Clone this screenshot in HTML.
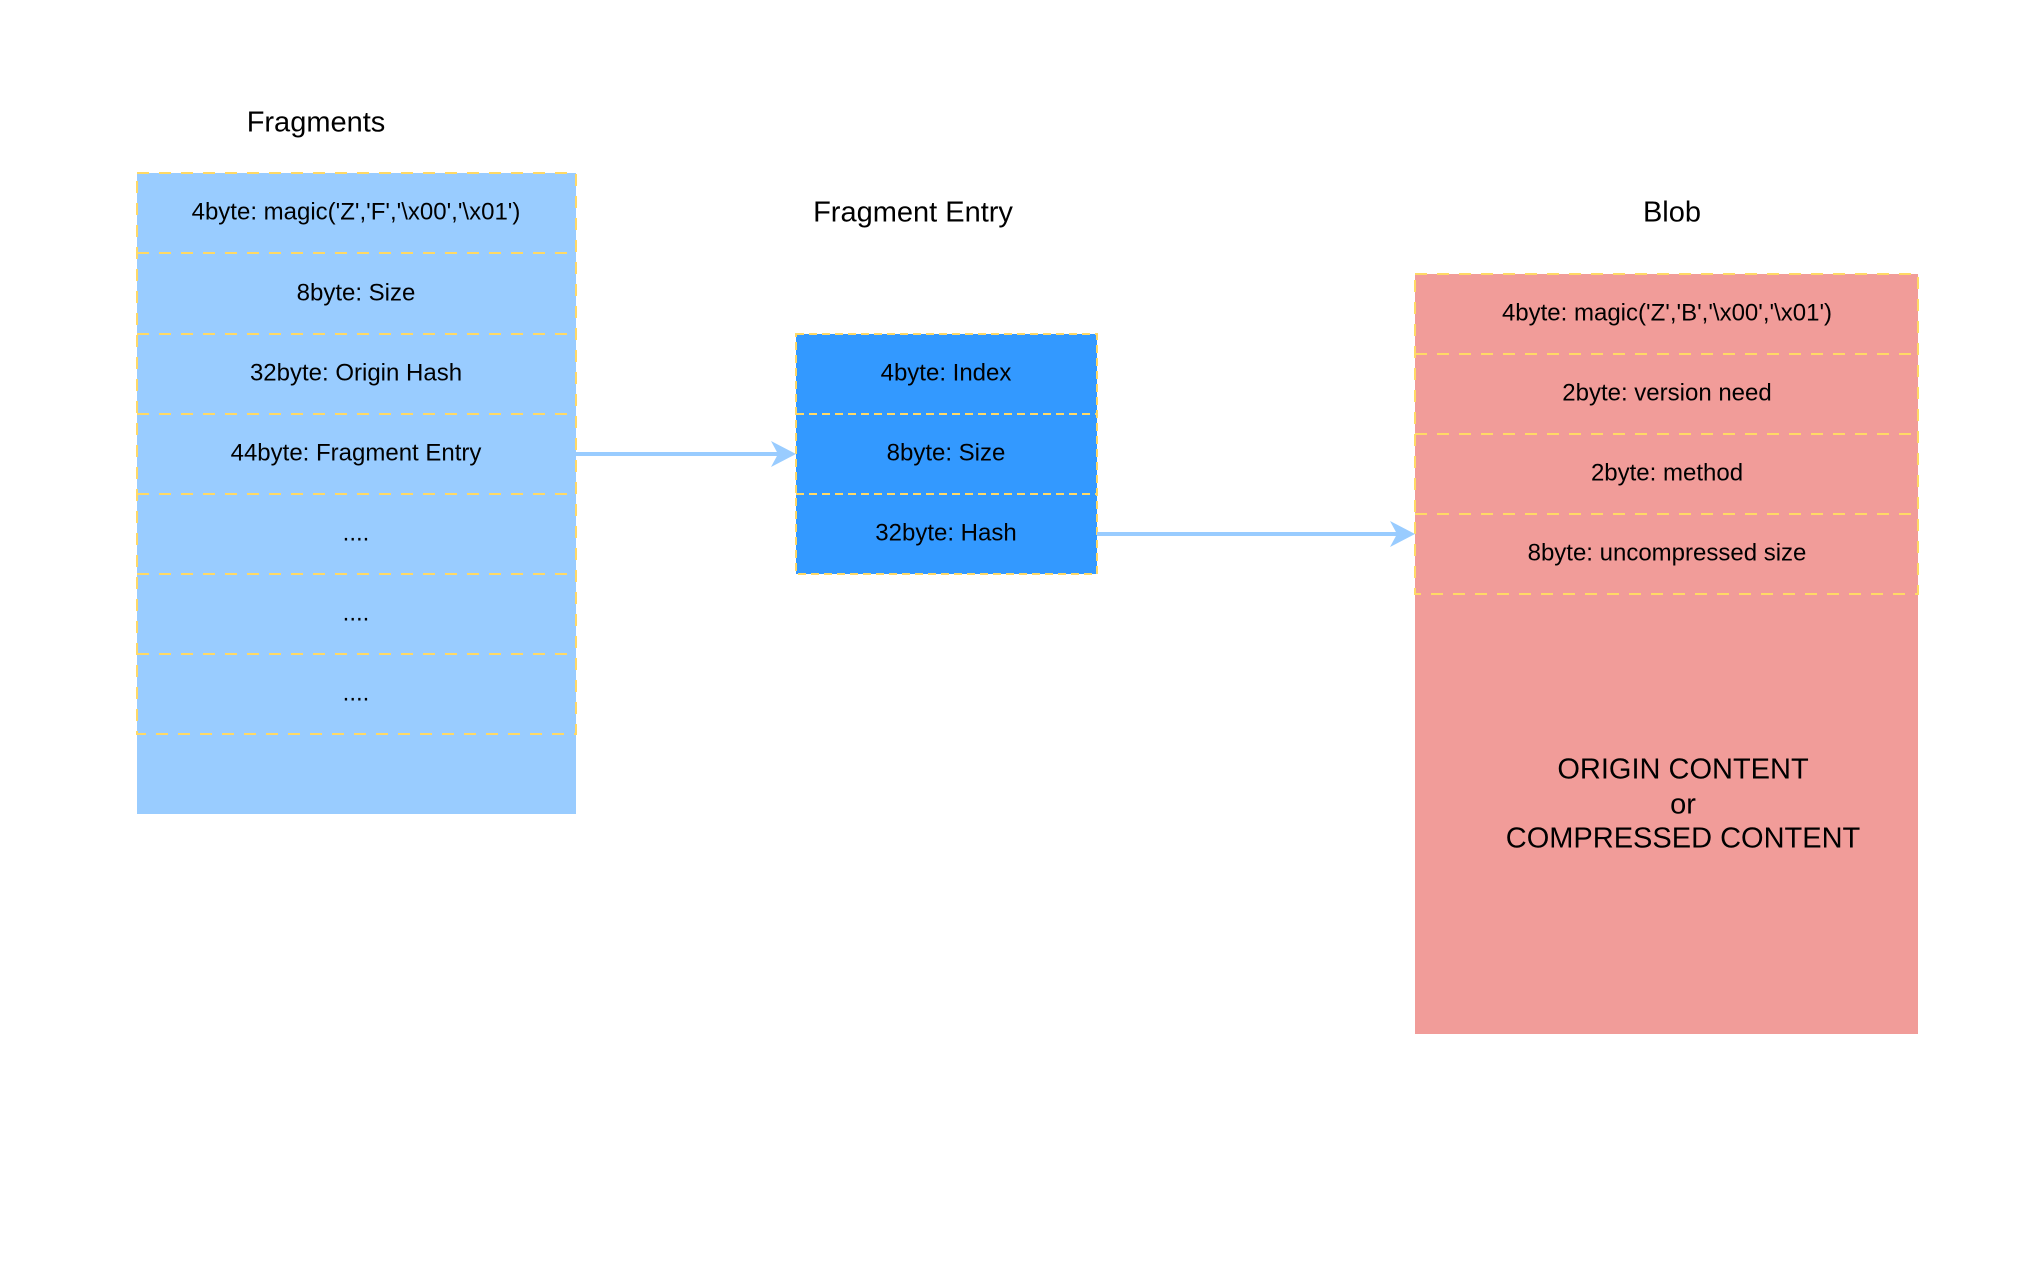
<!DOCTYPE html>
<html><head><meta charset="utf-8"><style>
body{margin:0;width:2034px;height:1276px;background:#fff;position:relative;overflow:hidden;font-family:"Liberation Sans",sans-serif;color:#000}
</style></head><body>
<svg width="2034" height="1276" style="position:absolute;left:0;top:0" font-family="Liberation Sans, sans-serif" font-size="24" text-anchor="middle">
<rect x="137" y="173" width="439" height="641" fill="#99CCFF"/>
<g stroke="#FFD966" stroke-width="2" stroke-dasharray="12,10" fill="none">
<rect x="137" y="173" width="439" height="561"/>
<line x1="137" y1="253" x2="576" y2="253"/><line x1="137" y1="334" x2="576" y2="334"/>
<line x1="137" y1="414" x2="576" y2="414"/><line x1="137" y1="494" x2="576" y2="494"/>
<line x1="137" y1="574" x2="576" y2="574"/><line x1="137" y1="654" x2="576" y2="654"/>
</g>
<g dominant-baseline="middle">
<text x="356" y="213">4byte: magic('Z','F','\x00','\x01')</text>
<text x="356" y="294">8byte: Size</text>
<text x="356" y="374">32byte: Origin Hash</text>
<text x="356" y="454">44byte: Fragment Entry</text>
<text x="356" y="534">....</text>
<text x="356" y="614">....</text>
<text x="356" y="694">....</text>
</g>
<rect x="796" y="334" width="301" height="240" fill="#3399FF"/>
<g stroke="#FFD966" stroke-width="2" stroke-dasharray="8,5" fill="none">
<rect x="796" y="334" width="301" height="240"/>
<line x1="796" y1="414" x2="1097" y2="414"/><line x1="796" y1="494" x2="1097" y2="494"/>
</g>
<g dominant-baseline="middle">
<text x="946" y="374">4byte: Index</text>
<text x="946" y="454">8byte: Size</text>
<text x="946" y="534">32byte: Hash</text>
</g>
<rect x="1415" y="274" width="503" height="760" fill="#F19C99"/>
<g stroke="#FFD966" stroke-width="2" stroke-dasharray="12,10" fill="none">
<rect x="1415" y="274" width="503" height="320"/>
<line x1="1415" y1="354" x2="1918" y2="354"/><line x1="1415" y1="434" x2="1918" y2="434"/>
<line x1="1415" y1="514" x2="1918" y2="514"/>
</g>
<g dominant-baseline="middle">
<text x="1667" y="314">4byte: magic('Z','B','\x00','\x01')</text>
<text x="1667" y="394">2byte: version need</text>
<text x="1667" y="474">2byte: method</text>
<text x="1667" y="554">8byte: uncompressed size</text>
<g font-size="29">
<text x="1683" y="771">ORIGIN CONTENT</text>
<text x="1683" y="806">or</text>
<text x="1683" y="840">COMPRESSED CONTENT</text>
</g>
</g>
<g stroke="#99CCFF" stroke-width="4" fill="#99CCFF">
<line x1="576" y1="454" x2="781" y2="454"/>
<path d="M796 454 L771 441 L778 454 L771 467Z" stroke="none"/>
<line x1="1097" y1="534" x2="1400" y2="534"/>
<path d="M1415 534 L1390 521 L1397 534 L1390 547Z" stroke="none"/>
</g>
<g font-size="29" dominant-baseline="middle">
<text x="316" y="124">Fragments</text>
<text x="913" y="214">Fragment Entry</text>
<text x="1672" y="214">Blob</text>
</g>
</svg>
</body></html>
